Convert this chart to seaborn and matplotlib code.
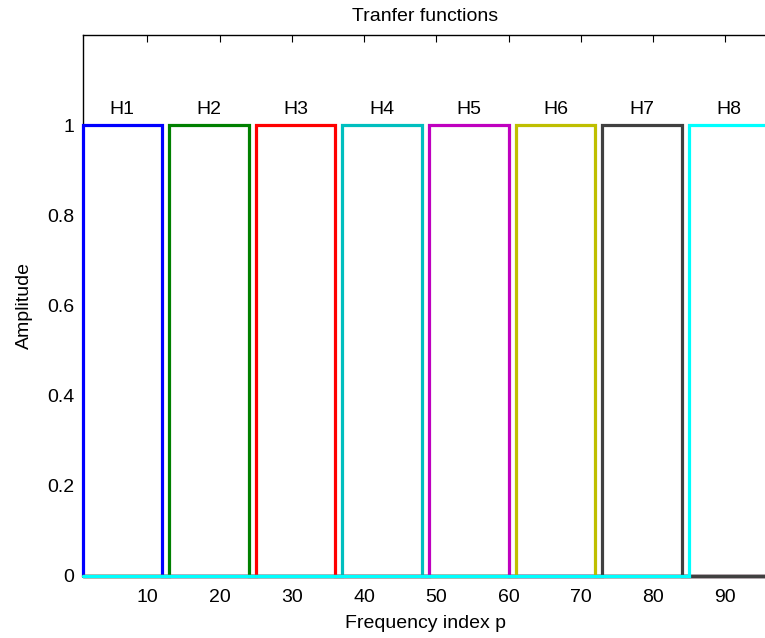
import numpy as np
import pandas as pd
import matplotlib
matplotlib.use("Agg")
import matplotlib.pyplot as plt
import seaborn as sns

# ---- data ----
names = ["H1", "H2", "H3", "H4", "H5", "H6", "H7", "H8"]
band_start = [1, 13, 25, 37, 49, 61, 73, 85]
band_end = [12, 24, 36, 48, 60, 72, 84, 96]
amplitude = [1, 1, 1, 1, 1, 1, 1, 1]
p_min, p_max = 1, 96
colors = ["#0000ff", "#008000", "#ff0000", "#00bfbf",
          "#bf00bf", "#bfbf00", "#404040", "#00ffff"]
xticks = [10, 20, 30, 40, 50, 60, 70, 80, 90]
yticks = [0, 0.2, 0.4, 0.6, 0.8, 1]
ytick_labels = ["0", "0.2", "0.4", "0.6", "0.8", "1"]

rows = []
for n, s, e, a in zip(names, band_start, band_end, amplitude):
    xs = [p_min, s, s, e, e, p_max]
    ys = [0, 0, a, a, 0, 0]
    for i, (x, y) in enumerate(zip(xs, ys)):
        rows.append({"p": x, "amp": y, "filter": n, "order": i})
df = pd.DataFrame(rows)

sns.set_style("white")
plt.rcParams["font.family"] = ["Liberation Sans", "DejaVu Sans"]
plt.rcParams["text.color"] = "black"
plt.rcParams["axes.labelcolor"] = "black"

FS = 14
W, H = 765, 638
fig = plt.figure(figsize=(W / 100, H / 100), dpi=100)
left_px, right_px, top_px, bottom_px = 82.5, 768.6, 35, 576
ax = fig.add_axes([left_px / W, 1 - bottom_px / H,
                   (right_px - left_px) / W, (bottom_px - top_px) / H])

sns.lineplot(data=df, x="p", y="amp", hue="filter", hue_order=names,
             palette=colors, sort=False, estimator=None, linewidth=2.3,
             legend=False, ax=ax)
for ln in ax.get_lines():
    ln.set_zorder(3)
    ln.set_clip_on(False)
    ln.set_solid_joinstyle("miter")

for n, s, e, a in zip(names, band_start, band_end, amplitude):
    ax.text((s + e) / 2, a + 0.015, n, ha="center", va="bottom",
            fontsize=FS, color="black")

ax.set_xlim(p_min, p_max)
ax.set_ylim(0, 1.2)
ax.set_xticks(xticks)
ax.set_yticks(yticks)
ax.set_yticklabels(ytick_labels)
ax.tick_params(direction="in", length=5, width=0.8, labelsize=FS,
               top=True, right=False, colors="black")
ax.tick_params(axis="x", pad=9)
ax.tick_params(axis="y", pad=6)
for sp in ax.spines.values():
    sp.set_color("black")
    sp.set_linewidth(1.0)
ax.set_xlabel("Frequency index p", fontsize=FS, labelpad=7)
ax.set_ylabel("Amplitude", fontsize=FS, labelpad=10)
ax.set_title("Tranfer functions", fontsize=FS, pad=10)

fig.savefig("out.png", dpi=100)
